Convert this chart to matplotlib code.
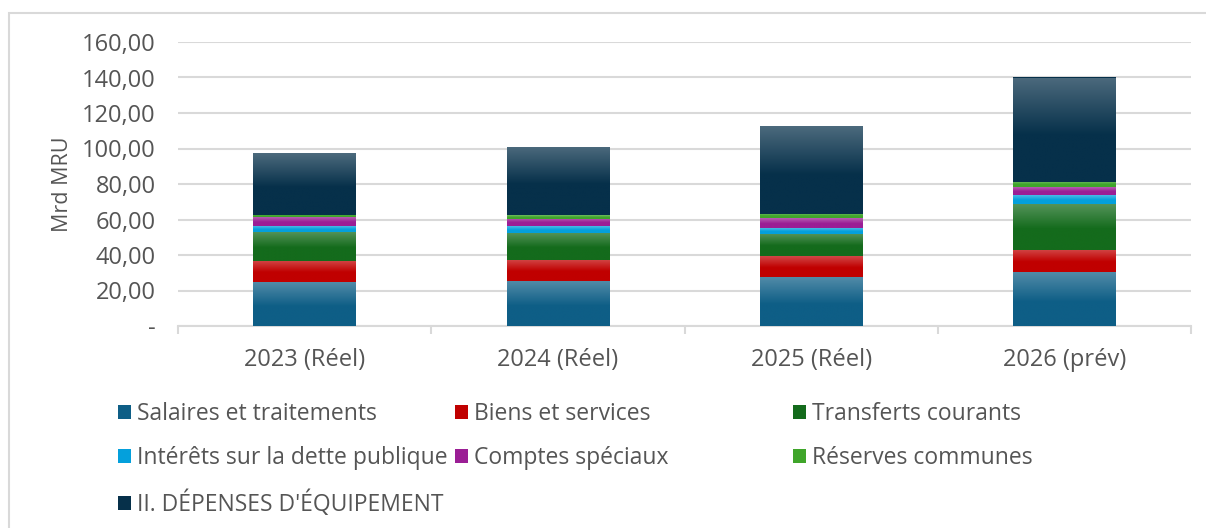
import numpy as np
import matplotlib
matplotlib.use("Agg")
import matplotlib.pyplot as plt
from matplotlib.patches import Patch, Rectangle
from matplotlib.colors import to_rgb

categories = ["2023 (Réel)", "2024 (Réel)", "2025 (Réel)", "2026 (prév)"]
series_names = ["Salaires et traitements", "Biens et services", "Transferts courants",
                "Intérêts sur la dette publique", "Comptes spéciaux", "Réserves communes",
                "II. DÉPENSES D'ÉQUIPEMENT"]
salaires = [24.7, 25.3, 27.6, 30.4]
biens = [11.9, 11.9, 11.8, 12.4]
transferts = [16.6, 15.3, 12.7, 26.2]
interets = [3.2, 3.9, 3.2, 5.0]
comptes = [4.9, 4.0, 5.6, 4.3]
reserves = [1.3, 2.2, 2.3, 3.0]
equipement = [34.6, 38.5, 49.2, 58.7]
series_values = [salaires, biens, transferts, interets, comptes, reserves, equipement]
colors = ["#0E5E86", "#C00000", "#146B1C", "#04A0DC", "#9B1E95", "#3FA52A", "#06304A"]
yticks = [0, 20, 40, 60, 80, 100, 120, 140, 160]
ytick_labels = ["-", "20,00", "40,00", "60,00", "80,00", "100,00", "120,00", "140,00", "160,00"]

plt.rcParams['font.family'] = ['Open Sans', 'DejaVu Sans']
TXT = "#555555"
GRID = "#D9D9D9"

W, H = 1206, 528
fig = plt.figure(figsize=(W / 100, H / 100), dpi=100)
ax = fig.add_axes([178 / W, 1 - 326 / H, (1191 - 178) / W, (326 - 42) / H])

x = np.arange(len(categories))
bottom = np.zeros(len(categories))
bar_w = 0.405


def gradient_fill(ax, patch, color):
    base = np.array(to_rgb(color))
    n = 100
    t = np.linspace(0, 1, n)  # 0 at top
    f = np.clip(1 - t / 0.55, 0, 1) * 0.28
    rgb = base[None, :] * (1 - f[:, None]) + f[:, None] * 1.0
    img = rgb[:, None, :]
    bx, by = patch.get_x(), patch.get_y()
    bw, bh = patch.get_width(), patch.get_height()
    im = ax.imshow(img, extent=[bx, bx + bw, by, by + bh], aspect='auto',
                   origin='upper', zorder=3, interpolation='bilinear')
    im.set_clip_path(patch)


for name, vals, col in zip(series_names, series_values, colors):
    bars = ax.bar(x, vals, bar_w, bottom=bottom, color=col, zorder=2, linewidth=0)
    for p in bars:
        gradient_fill(ax, p, col)
    bottom = bottom + np.array(vals)

ax.set_xlim(-0.5, len(categories) - 0.5)
ax.set_ylim(0, 160)
ax.set_yticks(yticks)
ax.set_yticklabels(ytick_labels)
ax.set_xticks(x)
ax.set_xticklabels(categories)
ax.set_xticks(np.arange(-0.5, len(categories), 1), minor=True)
ax.tick_params(axis='x', which='major', length=0, pad=16, labelsize=17, colors=TXT)
ax.tick_params(axis='x', which='minor', length=6, width=1.5, color=GRID)
ax.tick_params(axis='y', length=0, pad=16, labelsize=17, colors=TXT)

ax.grid(axis='y', color=GRID, linewidth=1.5, zorder=0)
ax.set_axisbelow(True)
for s in ['top', 'right', 'left']:
    ax.spines[s].set_visible(False)
ax.spines['bottom'].set_color(GRID)
ax.spines['bottom'].set_linewidth(1.5)

ax.set_ylabel("Mrd MRU", fontsize=15.5, color=TXT)
ax.yaxis.set_label_coords(-0.104, 0.5)

# frame of the chart area
fig.patches.append(Rectangle((9 / W, -0.1), 1.2, 1 - 13 / H + 0.1, transform=fig.transFigure,
                             fill=False, edgecolor=GRID, linewidth=1.5, zorder=0))

# legend: three columns, row-major like the original
handles = [Patch(facecolor=c, edgecolor='none') for c in colors]
cols = [[0, 3, 6], [1, 4], [2, 5]]
col_x = [118, 455, 793]
for cx, idxs in zip(col_x, cols):
    fig.legend([handles[i] for i in idxs], [series_names[i] for i in idxs],
               loc='upper left', bbox_to_anchor=(cx / W, 1 - 402 / H),
               frameon=False, fontsize=16.5, labelcolor=TXT,
               handlelength=0.56, handleheight=0.56, handletextpad=0.25,
               labelspacing=0.89, borderaxespad=0, borderpad=0)

fig.savefig("out.png", dpi=100)
